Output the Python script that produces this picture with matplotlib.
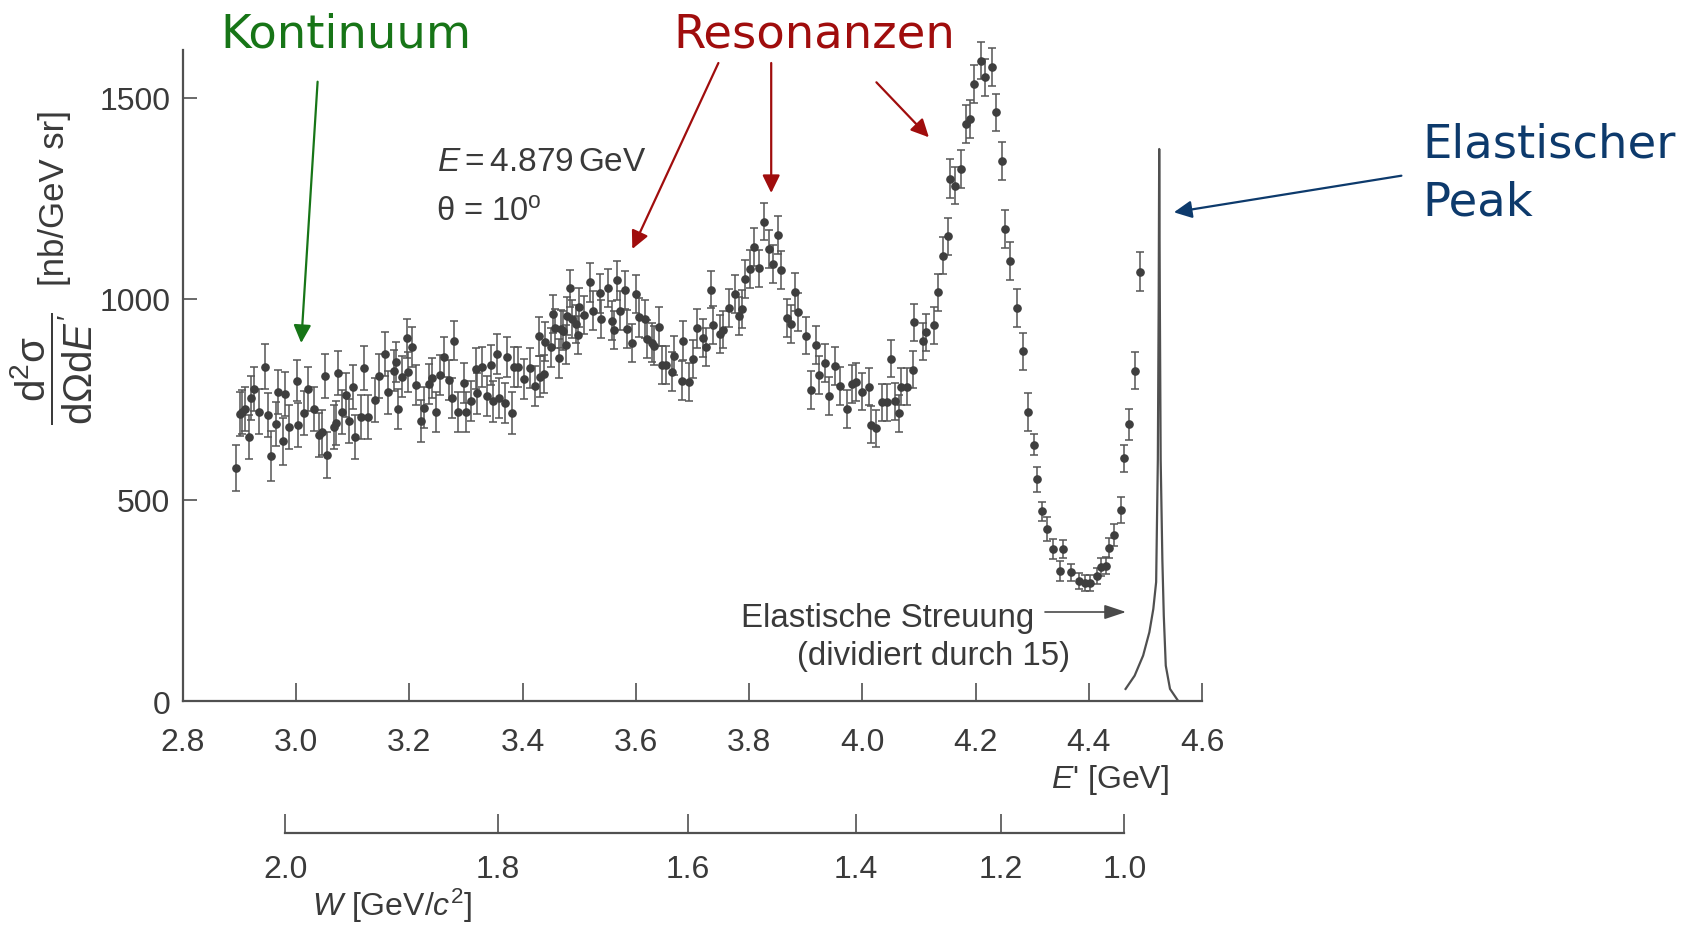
import numpy as np
import matplotlib
matplotlib.use('Agg')
import matplotlib.pyplot as plt

e_prime = [
    2.894, 2.901, 2.905, 2.910, 2.917, 2.920, 2.926, 2.935, 2.944, 2.951,
    2.955, 2.964, 2.967, 2.977, 2.981, 2.988, 3.001, 3.003, 3.014, 3.021,
    3.032, 3.041, 3.045, 3.051, 3.054, 3.066, 3.070, 3.073, 3.080, 3.088,
    3.093, 3.100, 3.104, 3.114, 3.119, 3.127, 3.139, 3.147, 3.156, 3.163,
    3.173, 3.176, 3.180, 3.186, 3.195, 3.198, 3.204, 3.212, 3.221, 3.226,
    3.235, 3.240, 3.247, 3.254, 3.261, 3.270, 3.275, 3.279, 3.286, 3.297,
    3.300, 3.308, 3.317, 3.320, 3.328, 3.337, 3.344, 3.347, 3.354, 3.358,
    3.369, 3.372, 3.381, 3.385, 3.392, 3.402, 3.413, 3.421, 3.428, 3.430,
    3.438, 3.440, 3.450, 3.453, 3.457, 3.465, 3.467, 3.471, 3.477, 3.478,
    3.484, 3.488, 3.495, 3.497, 3.500, 3.509, 3.519, 3.525, 3.536, 3.539,
    3.550, 3.557, 3.561, 3.567, 3.572, 3.581, 3.584, 3.593, 3.601, 3.606,
    3.616, 3.620, 3.628, 3.632, 3.641, 3.647, 3.653, 3.663, 3.668, 3.681,
    3.684, 3.693, 3.700, 3.708,
    3.719, 3.724, 3.732, 3.736, 3.748, 3.754, 3.765, 3.775, 3.783, 3.787,
    3.792, 3.801, 3.809, 3.818, 3.826, 3.836, 3.843, 3.851, 3.856, 3.867,
    3.874, 3.881, 3.887, 3.901, 3.909, 3.918, 3.924, 3.934, 3.941, 3.951,
    3.961, 3.973, 3.981, 3.989,
    3.999, 4.011, 4.015, 4.024, 4.034, 4.043, 4.051, 4.057, 4.065, 4.069,
    4.079, 4.089, 4.092, 4.107, 4.113, 4.126, 4.133, 4.142, 4.151, 4.155,
    4.164, 4.174, 4.183, 4.191, 4.197, 4.210, 4.217, 4.229, 4.236, 4.246,
    4.252, 4.260,
    4.273, 4.284, 4.293, 4.304, 4.308, 4.318, 4.326, 4.336, 4.350, 4.354,
    4.368, 4.383, 4.394, 4.402, 4.414, 4.422, 4.431, 4.436, 4.445, 4.457,
    4.463, 4.471, 4.481, 4.491,
]
sigma = [
    580, 714, 718, 726, 656, 754, 776, 720, 831, 712,
    610, 689, 768, 646, 764, 682, 797, 687, 716, 776,
    726, 662, 668, 809, 612, 681, 691, 816, 718, 761,
    697, 781, 657, 706, 828, 706, 749, 808, 863, 768,
    822, 844, 726, 807, 902, 818, 880, 786, 697, 730,
    789, 803, 718, 811, 855, 798, 753, 896, 718, 790,
    718, 747, 827, 765, 830, 759, 836, 745, 863, 753,
    741, 856, 716, 830, 830, 801, 828, 784, 907, 807,
    813, 894, 880, 963, 927, 852, 925, 921, 886, 958,
    1027, 950, 938, 910, 979, 960, 1041, 971, 1014, 950,
    1027, 946, 923, 1046, 971, 1022, 925, 890, 1012, 954,
    950, 900, 891, 884, 931, 836, 836, 819, 859, 797,
    896, 793, 851, 927,
    902, 880, 1023, 936, 913, 924, 977, 1012, 957, 975,
    1050, 1075, 1129, 1076, 1192, 1124, 1087, 1159, 1073, 952,
    938, 1017, 967, 909, 774, 886, 811, 841, 758, 833,
    783, 726, 789, 793,
    769, 782, 687, 678, 743, 743, 851, 745, 716, 782,
    782, 824, 942, 895, 917, 935, 1017, 1108, 1156, 1299,
    1282, 1323, 1435, 1448, 1535, 1593, 1551, 1576, 1464, 1344,
    1174, 1095,
    978, 870, 718, 638, 552, 472, 428, 378, 324, 378,
    320, 299, 293, 293, 312, 334, 337, 380, 413, 475,
    604, 688, 822, 1068,
]
sigma_err = [
    58, 55, 55, 55, 55, 55, 54, 55, 56, 55,
    62, 55, 55, 58, 55, 55, 52, 55, 55, 55,
    55, 55, 55, 55, 58, 55, 55, 55, 55, 55,
    55, 55, 55, 55, 55, 55, 54, 54, 54, 54,
    50, 50, 50, 50, 48, 50, 50, 50, 52, 50,
    50, 50, 50, 50, 50, 50, 50, 48, 50, 50,
    50, 50, 50, 50, 50, 50, 50, 50, 50, 50,
    50, 50, 52, 50, 50, 50, 50, 50, 48, 50,
    48, 48, 48, 48, 48, 48, 48, 48, 48, 48,
    46, 48, 48, 48, 48, 48, 48, 48, 48, 48,
    48, 48, 48, 48, 48, 48, 48, 48, 48, 48,
    48, 48, 48, 48, 48, 48, 48, 48, 48, 48,
    48, 48, 48, 48,
    47, 47, 46, 47, 47, 47, 47, 47, 47, 47,
    47, 47, 47, 47, 46, 47, 47, 47, 47, 47,
    47, 47, 47, 47, 47, 47, 47, 47, 47, 47,
    47, 47, 47, 47,
    46, 46, 46, 46, 46, 46, 46, 46, 46, 46,
    46, 46, 46, 46, 46, 46, 46, 46, 46, 48,
    47, 47, 47, 47, 47, 47, 47, 47, 47, 47,
    47, 47,
    47, 46, 47, 27, 31, 24, 30, 25, 25, 22,
    21, 20, 20, 20, 20, 22, 22, 25, 27, 33,
    34, 39, 46, 48,
]

# elastic peak (divided by 15), traced line
peak_e = [4.465, 4.481, 4.496, 4.507, 4.514, 4.519, 4.522, 4.5235, 4.5244,
          4.5255, 4.527, 4.530, 4.5325, 4.536, 4.5435, 4.558]
peak_sigma = [30, 63, 113, 171, 229, 296, 600, 1000, 1373,
              1000, 600, 350, 212, 88, 30, 0]

e_ticks = [2.8, 3.0, 3.2, 3.4, 3.6, 3.8, 4.0, 4.2, 4.4, 4.6]
sigma_ticks = [0, 500, 1000, 1500]
w_ticks = [2.0, 1.8, 1.6, 1.4, 1.2, 1.0]

# kinematics of the measurement, used for the W scale
E_BEAM = 4.879
THETA_DEG = 10.0
M_P = 0.93827

GREEN = '#177517'
RED = '#a00d0d'
NAVY = '#0d3a6c'
INK = '#3a3a3a'
AXC = '#505050'

W_PX, H_PX = 1702, 928


def e_from_w(w):
    s2 = np.sin(np.radians(THETA_DEG) / 2) ** 2
    return (M_P ** 2 + 2 * M_P * E_BEAM - w ** 2) / (2 * M_P + 4 * E_BEAM * s2)


def fpos(x, y):
    # figure pixel (from top-left) -> figure fraction
    return (x / W_PX, 1 - y / H_PX)


plt.rcParams['font.family'] = ['Liberation Sans', 'DejaVu Sans']
plt.rcParams['mathtext.fontset'] = 'custom'
plt.rcParams['mathtext.rm'] = 'Liberation Sans'
plt.rcParams['mathtext.it'] = 'Liberation Sans:italic'
plt.rcParams['mathtext.bf'] = 'Liberation Sans:bold'

fig = plt.figure(figsize=(W_PX / 100, H_PX / 100), dpi=100)
fig.patch.set_facecolor('white')

left, right, top, bottom = 183, 1202, 50.7, 702
ax = fig.add_axes([left / W_PX, 1 - bottom / H_PX,
                   (right - left) / W_PX, (bottom - top) / H_PX])
ax.set_xlim(2.8, 4.6)
ax.set_ylim(0, 1620)
ax.patch.set_visible(False)

ax.errorbar(e_prime, sigma, yerr=sigma_err, fmt='o', ms=5.2,
            color='#3e3e3e', ecolor='#555555', elinewidth=1.1,
            capsize=2.8, capthick=1.1, clip_on=False, zorder=3)
ax.plot(peak_e, peak_sigma, color='#505050', lw=1.6, zorder=2)

for s in ['top', 'right']:
    ax.spines[s].set_visible(False)
for s in ['left', 'bottom']:
    ax.spines[s].set_color(AXC)
    ax.spines[s].set_linewidth(1.6)

ax.set_xticks(e_ticks, labels=[f'{t:.1f}' for t in e_ticks])
ax.set_yticks(sigma_ticks, labels=[str(t) for t in sigma_ticks])
ax.tick_params(direction='in', color=AXC, width=1.2,
               labelsize=23, labelcolor=INK)
ax.tick_params(axis='x', length=13, pad=18.5)
ax.tick_params(axis='y', length=10, pad=9)

# W scale below the E' axis
w_line = 834
ax_w = fig.add_axes([left / W_PX, 1 - w_line / H_PX, (right - left) / W_PX, 0.001])
ax_w.set_xlim(2.8, 4.6)
ax_w.patch.set_visible(False)
ax_w.set_yticks([])
for s in ['top', 'left', 'right']:
    ax_w.spines[s].set_visible(False)
ax_w.spines['bottom'].set_bounds(e_from_w(w_ticks[0]), e_from_w(w_ticks[-1]))
ax_w.spines['bottom'].set_color(AXC)
ax_w.spines['bottom'].set_linewidth(1.6)
ax_w.set_xticks([e_from_w(w) for w in w_ticks], labels=[f'{w:.1f}' for w in w_ticks])
ax_w.tick_params(axis='x', direction='in', length=14, width=1.2, color=AXC,
                 labelsize=23, labelcolor=INK, pad=15)

# axis labels
fig.text(*fpos(1169, 780), "$E$' [GeV]", fontsize=23, color=INK, ha='right', va='center')
fig.text(*fpos(312, 906), '$W$ [GeV/$c^2$]', fontsize=23, color=INK, ha='left', va='center')
fig.text(*fpos(52, 369), r"$\dfrac{\mathrm{d^2σ}}{\mathrm{dΩd}E'}$",
         fontsize=29, color=INK, rotation=90, ha='center', va='center')
fig.text(*fpos(55, 198), '[nb/GeV sr]', fontsize=25, color=INK, rotation=90,
         ha='center', va='center')

# parameters of the run
fig.text(*fpos(437, 171), r'$E = 4.879\,\mathrm{GeV}$', fontsize=24, color=INK,
         ha='left', va='baseline')
fig.text(*fpos(436, 222), r'θ = 10$^{\mathrm{o}}$', fontsize=23.5, color=INK,
         ha='left', va='baseline')

# elastic scattering note
fig.text(*fpos(741, 627), 'Elastische Streuung', fontsize=23.8, color=INK,
         ha='left', va='baseline')
fig.text(*fpos(797, 665), '(dividiert durch 15)', fontsize=23.8, color=INK,
         ha='left', va='baseline')
ax.annotate('', xy=fpos(1126, 613), xycoords='figure fraction',
            xytext=fpos(1045, 613), textcoords='figure fraction',
            arrowprops=dict(arrowstyle='-|>,head_length=0.6,head_width=0.2',
                            color='#4a4a4a', lw=1.2, mutation_scale=22,
                            shrinkA=0, shrinkB=0))

# coloured annotations
ann_font = dict(family='DejaVu Sans', fontsize=33.5)
fig.text(*fpos(346, 48), 'Kontinuum', color=GREEN, ha='center', va='baseline', **ann_font)
fig.text(*fpos(814, 47), 'Resonanzen', color=RED, ha='center', va='baseline', **ann_font)
fig.text(*fpos(1422, 158), 'Elastischer', color=NAVY, ha='left', va='baseline', **ann_font)
fig.text(*fpos(1422, 216), 'Peak', color=NAVY, ha='left', va='baseline', **ann_font)

arrows = [
    ((317.6, 82.7), (301.2, 344), GREEN),
    ((718.4, 64), (632.3, 250), RED),
    ((771.2, 64), (771.2, 194), RED),
    ((876.4, 83.3), (928.9, 138.3), RED),
    ((1401.4, 176.7), (1173.9, 213.3), NAVY),
]
for tail, tip, col in arrows:
    ax.annotate('', xy=fpos(*tip), xycoords='figure fraction',
                xytext=fpos(*tail), textcoords='figure fraction',
                arrowprops=dict(arrowstyle='-|>,head_length=0.45,head_width=0.22',
                                color=col, lw=1.6, mutation_scale=24,
                                shrinkA=0, shrinkB=0))

fig.savefig('out.png', dpi=100, facecolor='white')
